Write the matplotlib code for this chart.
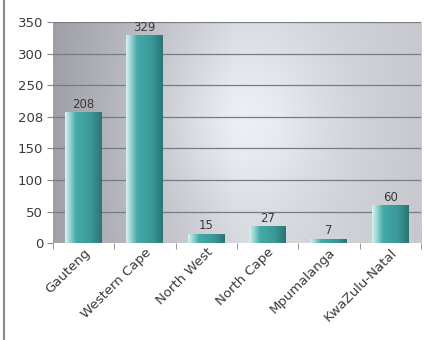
import numpy as np
import matplotlib
matplotlib.use("Agg")
import matplotlib.pyplot as plt
from matplotlib.colors import LinearSegmentedColormap

categories = ["Gauteng", "Western Cape", "North West", "North Cape", "Mpumalanga", "KwaZulu-Natal"]
values = [208, 329, 15, 27, 7, 60]
ytick_values = [0, 50, 100, 150, 200, 250, 300, 350]
ytick_labels = ["0", "50", "100", "150", "208", "250", "300", "350"]

fig = plt.figure(figsize=(4.26, 3.40), dpi=100)
fig.patch.set_facecolor("white")
ax = fig.add_axes([0.124, 0.285, 0.864, 0.65])

x = np.arange(len(categories))
ax.set_xlim(-0.5, len(categories) - 0.5)
ax.set_ylim(0, 350)

# background gradient
ny, nx = 200, 400
gx = np.linspace(0, 1, nx)
gy = np.linspace(0, 1, ny)
GX, GY = np.meshgrid(gx, gy)
base = 0.64 + 0.22 * np.clip(GX / 0.5, 0, 1) - 0.06 * np.clip((GX - 0.6) / 0.4, 0, 1)
rad = np.exp(-(((GX - 0.5) / 0.25) ** 2 + ((GY - 0.55) / 0.35) ** 2))
lum = np.clip(base + 0.09 * rad, 0, 1)
rgb = np.dstack([lum * 0.975, lum * 0.985, lum * 1.0 + 0.01])
rgb = np.clip(rgb, 0, 1)
ax.imshow(rgb, extent=[0, 1, 0, 1], transform=ax.transAxes, aspect="auto",
          zorder=0, origin="lower")

for yv in ytick_values[1:]:
    ax.axhline(yv, color="#777c84", lw=0.9, zorder=1)

bars = ax.bar(x, values, width=0.6, color="#3b9c9c", zorder=2)
bar_cmap = LinearSegmentedColormap.from_list(
    "bar", [(0.0, "#d6f2f0"), (0.12, "#9fd6d4"), (0.3, "#45aaa9"),
            (0.7, "#3a9898"), (1.0, "#2c7474")])
grad = np.linspace(0, 1, 100).reshape(1, -1)
for b in bars:
    bx, by, bw, bh = b.get_x(), b.get_y(), b.get_width(), b.get_height()
    im = ax.imshow(grad, cmap=bar_cmap, extent=[bx, bx + bw, by, by + bh],
                   aspect="auto", zorder=3)
    im.set_clip_path(b)

for xi, v in zip(x, values):
    ax.text(xi, v + 2, str(v), ha="center", va="bottom", fontsize=8.5,
            color="#3a3a3a", zorder=4)

ax.set_yticks(ytick_values)
ax.set_yticklabels(ytick_labels, fontsize=9.5, color="#3a3a3a")
ax.set_xticks(x)
ax.set_xticklabels(categories, rotation=45, ha="right", rotation_mode="anchor",
                   fontsize=9.5, color="#3a3a3a")
ax.tick_params(axis="x", length=0, pad=2)
ax.set_xticks(np.arange(-0.5, len(categories)), minor=True)
ax.tick_params(axis="x", which="minor", length=4, color="#888888")
ax.tick_params(axis="y", length=4, color="#888888", pad=3)
for s in ax.spines.values():
    s.set_visible(False)

# left frame line
fig.add_artist(plt.Line2D([3.5 / 426, 3.5 / 426], [0, 1], color="#8a8a8a", lw=1.5,
                          transform=fig.transFigure))

fig.savefig("out.png", dpi=100)
